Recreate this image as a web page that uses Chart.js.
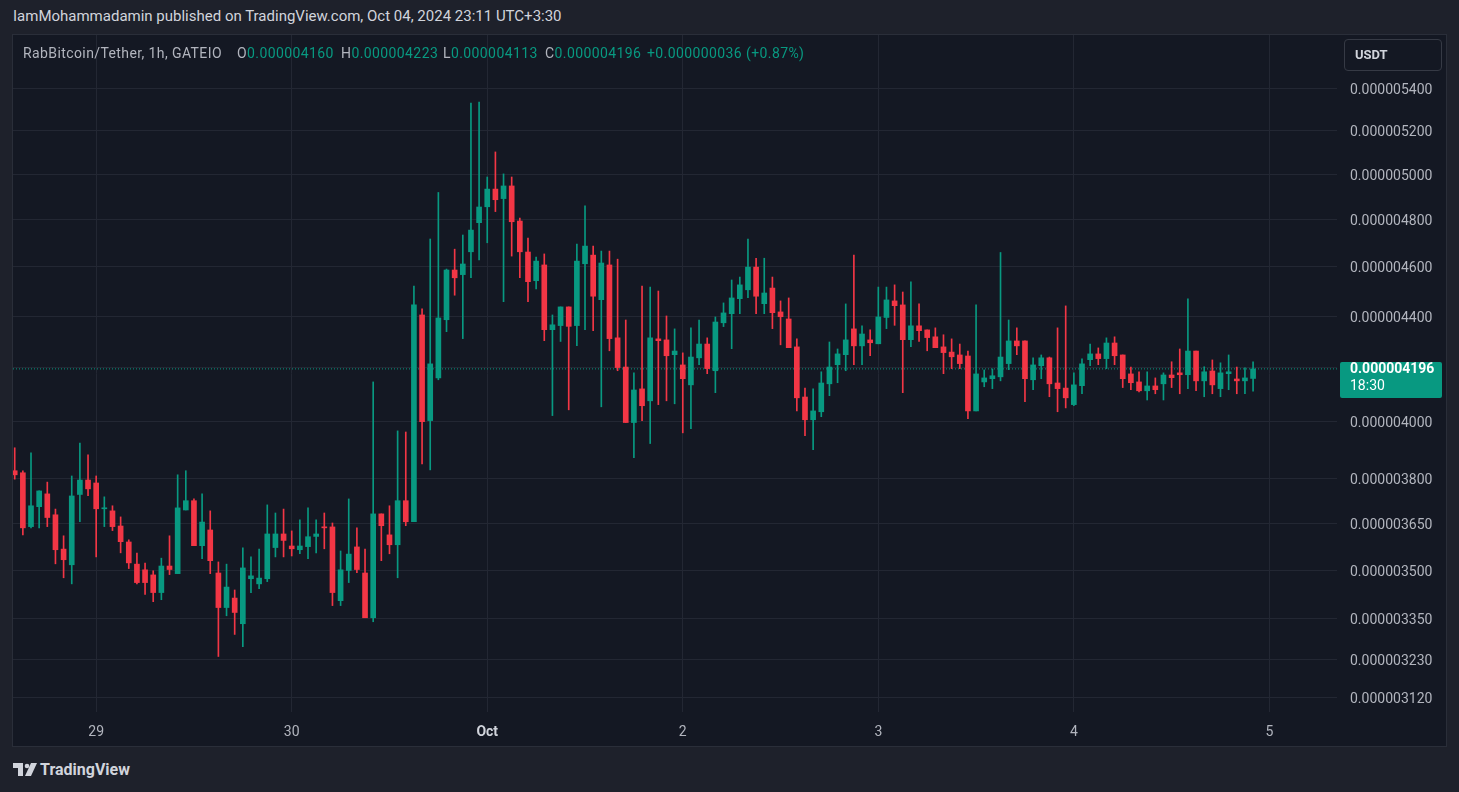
<!DOCTYPE html>
<html>
<head>
<meta charset="utf-8">
<script src="https://cdn.jsdelivr.net/npm/chart.js@4.4.1/dist/chart.umd.min.js"></script>
<style>
  body { margin: 0; width: 1459px; height: 792px; background: #1e212b; overflow: hidden; position: relative;
         font-family: Roboto, "Noto Sans", "Liberation Sans", sans-serif; }
  #title { position: absolute; left: 13px; top: 7px; color: #d1d4dc; font-size: 15px; white-space: nowrap; }
  #frame { position: absolute; left: 13px; top: 35px; width: 1433px; height: 711px; background: #141823;
           box-shadow: 0 0 0 1px #2a2e39; }
  #frame canvas { position: absolute; left: 0; top: 0; }
  #legend { position: absolute; left: 0; top: 10px; font-size: 14px; color: #b2b5be; white-space: nowrap;
            letter-spacing: 0.4px; }
  #legend span { position: absolute; top: 0; }
  #legend .v { color: #089981; }
  #usdt { position: absolute; left: 1331px; top: 4px; width: 96px; height: 30px; border: 1px solid #363a45;
          border-radius: 4px; color: #d1d4dc; font-size: 13px; font-weight: bold; line-height: 30px; }
  #usdt span { margin-left: 10px; }
  #brand { position: absolute; left: 13px; top: 760px; color: #d1d4dc; font-size: 16px; font-weight: bold;
           display: flex; align-items: center; }
  #brand svg { margin-right: 3px; }
</style>
</head>
<body>
<div id="title">IamMohammadamin published on TradingView.com, Oct 04, 2024 23:11 UTC+3:30</div>
<div id="frame">
  <canvas id="candles" width="1433" height="711"></canvas>
  <div id="legend"></div>
  <div id="usdt"><span>USDT</span></div>
</div>
<div id="brand">
  <svg width="24" height="14" viewBox="0 0 24 14"><path d="M0 0H10V13H5V5H0Z" fill="#d1d4dc"/><circle cx="14" cy="3" r="2.3" fill="#d1d4dc"/><path d="M18 0H24L18 13H12Z" fill="#d1d4dc"/></svg>
  TradingView
</div>
<script>
// prices in units of 1e-9 USDT, one candle per hour (index 0 = Sep 28, 14:00)
const opens = [3828,3821,3640,3706,3749,3679,3567,3517,3747,3796,
  3786,3699,3692,3642,3590,3519,3501,3485,3430,3513,
  3489,3695,3726,3578,3629,3491,3384,3413,3335,3473,
  3457,3473,3572,3616,3577,3565,3575,3608,3639,3639,
  3405,3499,3574,3491,3353,3682,3613,3581,3726,3656,
  4405,4005,4162,4386,4587,4568,4663,4787,4856,4934,
  4892,4948,4794,4662,4543,4608,4347,4363,4437,4363,
  4613,4649,4466,4608,4315,4203,3998,4121,4077,4311,
  4307,4250,4211,4136,4238,4291,4189,4374,4410,4470,
  4506,4599,4450,4513,4417,4389,4280,4091,4008,4037,
  4140,4212,4250,4350,4284,4307,4292,4395,4461,4445,
  4308,4362,4346,4319,4280,4260,4249,4245,4040,4147,
  4159,4166,4216,4303,4303,4155,4208,4238,4143,4124,
  4063,4133,4231,4253,4235,4295,4249,4177,4147,4114,
  4132,4140,4173,4181,4174,4264,4151,4188,4122,4178,
  4158,4151,4160];
const highs = [3908,3828,3890,3759,3789,3698,3610,3810,3925,3883,
  3810,3739,3709,3672,3597,3554,3522,3498,3538,3610,
  3814,3828,3732,3749,3692,3526,3519,3438,3571,3542,
  3567,3712,3685,3698,3626,3662,3702,3662,3685,3652,
  3561,3732,3636,3567,4147,3682,3709,3968,3964,4521,
  4429,4717,4919,4591,4674,4734,5332,5336,4988,5102,
  5002,4988,4807,4721,4641,4654,4405,4437,4437,4696,
  4860,4687,4666,4666,4632,4385,4181,4521,4517,4501,
  4401,4350,4257,4354,4385,4315,4397,4453,4546,4558,
  4717,4636,4636,4558,4461,4473,4311,4124,4121,4185,
  4299,4272,4449,4649,4362,4346,4517,4517,4526,4497,
  4538,4449,4346,4354,4327,4311,4291,4264,4445,4192,
  4196,4660,4385,4354,4303,4238,4249,4241,4354,4441,
  4181,4234,4291,4276,4315,4319,4249,4203,4185,4185,
  4162,4181,4223,4272,4469,4264,4204,4230,4219,4249,
  4203,4200,4223];
const lows = [3799,3613,3636,3636,3640,3520,3476,3457,3656,3743,
  3542,3640,3627,3555,3505,3457,3424,3402,3408,3486,
  3489,3695,3578,3536,3489,3238,3359,3303,3267,3430,
  3442,3464,3542,3542,3545,3552,3536,3555,3568,3390,
  3390,3461,3492,3353,3341,3530,3552,3476,3643,3656,
  3852,3831,4155,4339,4484,4312,4555,4629,4701,4835,
  4458,4645,4555,4458,4510,4304,4023,4301,4044,4285,
  4347,4343,4055,4265,4189,3998,3873,4005,3923,4063,
  4077,4066,3961,3976,4212,4178,4107,4359,4273,4410,
  4474,4410,4410,4351,4288,4277,4040,3951,3901,4019,
  4096,4144,4189,4212,4212,4246,4292,4351,4364,4107,
  4281,4301,4265,4277,4178,4197,4197,4012,4040,4129,
  4122,4151,4193,4250,4074,4118,4159,4092,4037,4051,
  4059,4103,4208,4212,4197,4212,4126,4118,4110,4080,
  4103,4080,4126,4103,4122,4114,4092,4103,4092,4118,
  4103,4103,4113];
const closes = [3814,3636,3709,3759,3670,3565,3533,3742,3796,3766,
  3699,3702,3640,3591,3523,3461,3461,3430,3513,3502,
  3702,3726,3578,3655,3530,3384,3447,3369,3507,3482,
  3475,3616,3616,3595,3568,3577,3607,3616,3636,3430,
  3501,3551,3502,3353,3682,3643,3581,3726,3656,4445,
  4001,4215,4393,4587,4555,4612,4755,4855,4934,4887,
  4948,4791,4663,4539,4624,4347,4366,4437,4360,4624,
  4687,4480,4616,4312,4201,3998,4117,4059,4315,4304,
  4246,4264,4159,4241,4291,4197,4377,4413,4473,4526,
  4599,4480,4493,4414,4398,4277,4088,4008,4040,4143,
  4203,4253,4307,4284,4330,4296,4397,4465,4442,4308,
  4362,4343,4316,4277,4258,4242,4216,4040,4177,4162,
  4170,4241,4303,4284,4159,4211,4238,4140,4122,4088,
  4136,4215,4253,4235,4295,4246,4159,4144,4114,4132,
  4118,4173,4163,4174,4264,4151,4185,4136,4181,4185,
  4151,4162,4196];
const dayTicks = [10, 34, 58, 82, 106, 130, 154];
const dayLabels = ['29', '30', 'Oct', '2', '3', '4', '5'];
const priceTicks = [3120, 3230, 3350, 3500, 3650, 3800, 4000, 4200, 4400, 4600, 4800, 5000, 5200, 5400];
const countdown = '18:30';

const up = '#089981';
const down = '#f23645';
const fmt = v => (v / 1e9).toFixed(9);
const last = closes.length - 1;

// legend row, pieces placed where TradingView puts them
const chg = closes[last] - opens[last];
const legendParts = [
  [10, 'RabBitcoin/Tether, 1h, GATEIO', ''],
  [224, 'O<span class="v" style="position:static">' + fmt(opens[last]) + '</span>', ''],
  [328, 'H<span class="v" style="position:static">' + fmt(highs[last]) + '</span>', ''],
  [430, 'L<span class="v" style="position:static">' + fmt(lows[last]) + '</span>', ''],
  [532, 'C<span class="v" style="position:static">' + fmt(closes[last]) + '</span>', ''],
  [634, '+' + fmt(chg) + ' (+' + (chg / opens[last] * 100).toFixed(2) + '%)', 'v']
];
document.getElementById('legend').innerHTML = legendParts
  .map(p => '<span class="' + p[2] + '" style="left:' + p[0] + 'px">' + p[1] + '</span>').join('');

const colorOf = ctx => closes[ctx.dataIndex] >= opens[ctx.dataIndex] ? up : down;
const xMin = -0.21, xMax = 162.3;

const priceBox = {
  id: 'priceBox',
  afterDraw(chart) {
    const c = chart.ctx;
    const y = chart.scales.y.getPixelForValue(closes[last]);
    const left = chart.chartArea.right + 3;
    c.save();
    c.fillStyle = up;
    c.beginPath();
    c.roundRect(left, y - 7, 102, 36, 2);
    c.fill();
    c.fillStyle = '#ffffff';
    c.textBaseline = 'middle';
    c.textAlign = 'left';
    c.font = 'bold 14px Roboto, sans-serif';
    c.fillText(fmt(closes[last]), left + 10, y + 1);
    c.font = '14px Roboto, sans-serif';
    c.fillText(countdown, left + 10, y + 18);
    c.restore();
  }
};

new Chart(document.getElementById('candles').getContext('2d'), {
  type: 'bar',
  data: {
    datasets: [
      {
        type: 'line',
        data: [{ x: xMin, y: closes[last] }, { x: xMax, y: closes[last] }],
        borderColor: up,
        borderWidth: 1,
        borderDash: [1, 2],
        pointRadius: 0,
        order: 3
      },
      {
        data: opens.map((o, i) => ({ x: i, y: [lows[i], highs[i]] })),
        backgroundColor: colorOf,
        barThickness: 1,
        grouped: false,
        order: 2
      },
      {
        data: opens.map((o, i) => ({ x: i, y: [o, closes[i]] })),
        backgroundColor: colorOf,
        barThickness: 5,
        minBarLength: 1,
        grouped: false,
        order: 1
      }
    ]
  },
  options: {
    responsive: false,
    animation: false,
    devicePixelRatio: 1,
    layout: { padding: 0 },
    plugins: { legend: { display: false }, tooltip: { enabled: false } },
    scales: {
      x: {
        type: 'linear',
        min: xMin,
        max: xMax,
        offset: false,
        border: { display: false },
        grid: { color: '#232733', offset: false, drawTicks: false },
        afterBuildTicks: s => { s.ticks = dayTicks.map(v => ({ value: v })); },
        afterFit: s => { s.height = 34; s.paddingLeft = 0; s.paddingRight = 0; },
        ticks: {
          autoSkip: false,
          maxRotation: 0,
          padding: 12,
          callback: v => dayLabels[dayTicks.indexOf(v)],
          color: c => c.index === 2 ? '#d1d4dc' : '#b2b5be',
          font: c => ({ family: 'Roboto', size: 14, weight: c.index === 2 ? 'bold' : 'normal' })
        }
      },
      y: {
        type: 'logarithmic',
        position: 'right',
        min: 3080,
        max: 5669,
        border: { display: false },
        grid: { color: '#232733', drawTicks: false },
        afterBuildTicks: s => { s.ticks = priceTicks.map(v => ({ value: v })); },
        afterFit: s => { s.width = 109; s.paddingTop = 0; s.paddingBottom = 0; },
        ticks: {
          autoSkip: false,
          padding: 13,
          labelOffset: 2,
          color: '#b2b5be',
          font: { family: 'Roboto', size: 14 },
          // TradingView hides the scale label that sits under the last-price tag
          callback: v => Math.abs(v - closes[last]) / closes[last] < 0.01 ? '' : fmt(v)
        }
      }
    }
  },
  plugins: [priceBox]
});
</script>
</body>
</html>
